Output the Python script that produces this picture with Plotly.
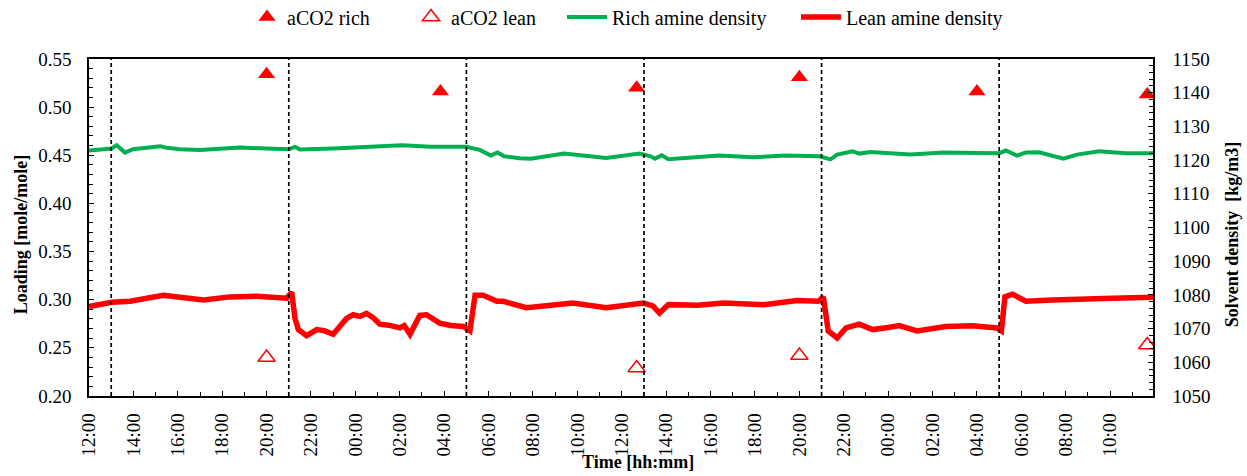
import plotly.graph_objects as go

# ---- data -------------------------------------------------------------
# elapsed time is given in hours after 12:00 on the first day

# rich amine density [kg/m3]
rich_density_h = [0.0, 1.02, 1.25, 1.62, 1.98, 3.2, 3.5, 4.1, 5.0, 6.8, 8.0, 9.0, 9.28, 9.5,
                  11.0, 13.1, 14.1, 15.4, 17.0, 17.6, 17.85, 18.1, 18.4, 18.7, 19.4, 19.9,
                  21.4, 22.4, 23.3, 24.8, 25.3, 25.5, 25.8, 26.1, 26.9, 28.4, 29.9, 31.4,
                  32.9, 33.4, 33.7, 34.4, 34.7, 35.2, 37.0, 38.5, 41.0, 41.3, 41.8, 42.2,
                  42.8, 43.4, 43.9, 44.5, 45.5, 46.7, 47.93]
rich_density = [1122.8, 1123.4, 1124.4, 1122.2, 1123.2, 1124.1, 1123.6, 1123.2, 1123.0, 1123.7,
                1123.4, 1123.2, 1123.9, 1123.1, 1123.4, 1123.9, 1124.4, 1123.9, 1123.9, 1123.0,
                1122.2, 1121.3, 1122.2, 1121.1, 1120.5, 1120.4, 1121.9, 1121.3, 1120.6, 1121.9,
                1121.1, 1120.4, 1121.4, 1120.2, 1120.6, 1121.3, 1120.8, 1121.3, 1121.1, 1120.2,
                1121.6, 1122.6, 1121.9, 1122.4, 1121.6, 1122.2, 1122.0, 1122.8, 1121.3, 1122.2,
                1122.3, 1121.3, 1120.4, 1121.6, 1122.6, 1122.0, 1122.0]

# lean amine density [kg/m3]
lean_density_h = [0.0, 1.02, 1.85, 2.6, 3.35, 4.1, 5.15, 6.35, 7.55, 8.9, 9.13, 9.28, 9.43,
                  9.8, 10.26, 10.6, 11.0, 11.6, 11.9, 12.2, 12.5, 12.8, 13.1, 13.5, 14.0,
                  14.2, 14.46, 14.9, 15.2, 15.8, 16.3, 16.86, 17.16, 17.39, 17.76, 18.37,
                  18.66, 19.7, 20.6, 21.8, 23.3, 24.97, 25.4, 25.7, 26.1, 27.4, 28.6, 30.4,
                  31.9, 32.85, 33.08, 33.3, 33.7, 34.1, 34.7, 35.3, 36.0, 36.5, 37.3, 38.6,
                  39.8, 40.9, 41.1, 41.26, 41.6, 42.2, 43.4, 44.9, 46.1, 47.93]
lean_density = [1076.5, 1077.8, 1078.1, 1078.9, 1079.9, 1079.3, 1078.5, 1079.4, 1079.6, 1079.0,
                1080.8, 1073.0, 1069.7, 1067.9, 1069.7, 1069.4, 1068.3, 1073.0, 1074.1, 1073.6,
                1074.5, 1073.2, 1071.3, 1071.0, 1070.2, 1070.9, 1068.3, 1073.9, 1074.1, 1071.6,
                1070.9, 1070.6, 1069.3, 1079.9, 1079.9, 1078.1, 1078.1, 1076.2, 1076.7, 1077.6,
                1076.2, 1077.6, 1076.7, 1074.6, 1077.1, 1076.9, 1077.6, 1077.1, 1078.3, 1078.1,
                1079.4, 1069.3, 1067.2, 1070.2, 1071.3, 1069.7, 1070.3, 1070.9, 1069.3, 1070.6,
                1070.8, 1070.2, 1069.3, 1079.4, 1080.2, 1078.1, 1078.5, 1079.0, 1079.0, 1079.3]

# sampled CO2 loading [mole/mole]
rich_sample_h = [8.0, 15.83, 24.67, 32.0, 40.0, 47.67]
rich_loading = [0.534, 0.516, 0.520, 0.531, 0.516, 0.513]
lean_sample_h = [8.0, 24.67, 32.0, 47.67]
lean_loading = [0.240, 0.229, 0.242, 0.253]

# shift change markers (hours)
shift_h = [1, 9, 17, 25, 33, 41]

# x tick positions and labels
tick_h = list(range(0, 47, 2))
tick_labels = ["12:00", "14:00", "16:00", "18:00", "20:00", "22:00", "00:00", "02:00",
               "04:00", "06:00", "08:00", "10:00", "12:00", "14:00", "16:00", "18:00",
               "20:00", "22:00", "00:00", "02:00", "04:00", "06:00", "08:00", "10:00"]

# ---- figure -------------------------------------------------------------
FONT = "Liberation Serif"
RED = "#FF0000"
GREEN = "#00B050"
W, H = 1247, 476
L, R, T, B = 89, 94, 36, 80

fig = go.Figure()

fig.add_trace(go.Scatter(
    x=rich_density_h, y=rich_density, yaxis="y2", mode="lines",
    name="Rich amine density", line=dict(color=GREEN, width=4),
    legend="legend3"))
fig.add_trace(go.Scatter(
    x=lean_density_h, y=lean_density, yaxis="y2", mode="lines",
    name="Lean amine density", line=dict(color=RED, width=5.5),
    legend="legend4"))
fig.add_trace(go.Scatter(
    x=rich_sample_h, y=rich_loading, mode="markers", name="aCO2 rich",
    marker=dict(symbol="triangle-up", size=15, color=RED),
    legend="legend"))
fig.add_trace(go.Scatter(
    x=lean_sample_h, y=lean_loading, mode="markers", name="aCO2 lean",
    marker=dict(symbol="triangle-up-open", size=15, color=RED, line=dict(width=1.5)),
    legend="legend2"))

for h in shift_h:
    fig.add_shape(type="line", xref="x", yref="paper", x0=h, x1=h, y0=0, y1=1,
                  line=dict(color="black", width=1.7, dash="4px,3px"))

legend_style = dict(orientation="h", xref="container", yref="container",
                    xanchor="left", yanchor="middle", y=1 - 17 / H,
                    bgcolor="rgba(0,0,0,0)", font=dict(family=FONT, size=20, color="black"))

axis_common = dict(showline=True, linecolor="black", linewidth=1.5, showgrid=False,
                   zeroline=False, ticks="inside", ticklen=5, tickwidth=1.2,
                   tickcolor="black", tickfont=dict(family=FONT, size=19, color="black"))

fig.update_layout(
    width=W, height=H,
    margin=dict(l=L, r=R, t=T, b=B),
    paper_bgcolor="white", plot_bgcolor="white",
    font=dict(family=FONT, size=19, color="black"),
    showlegend=True,
    legend=dict(legend_style, x=247 / W),
    legend2=dict(legend_style, x=411 / W),
    legend3=dict(legend_style, x=562 / W, itemwidth=40),
    legend4=dict(legend_style, x=796 / W, itemwidth=40),
    xaxis=dict(axis_common, range=[0, 47.93], tickmode="array", tickvals=tick_h,
               ticktext=tick_labels, tickangle=-90, mirror=True, ticklabelstandoff=8,
               minor=dict(dtick=1, ticks="inside", ticklen=4, tickcolor="black")),
    yaxis=dict(axis_common, range=[0.20, 0.55], dtick=0.05, tickformat=".2f",
               ticklabelstandoff=12,
               minor=dict(dtick=0.01, ticks="inside", ticklen=4, tickcolor="black")),
    yaxis2=dict(axis_common, range=[1050, 1150], dtick=10, overlaying="y", side="right",
                ticklabelstandoff=14,
                minor=dict(dtick=2, ticks="inside", ticklen=4, tickcolor="black")),
)

title_font = dict(family=FONT, size=18, color="black", weight="bold")
fig.add_annotation(text="Time [hh:mm]", xref="paper", yref="paper",
                   x=(638 - L) / (W - L - R), y=-(466 - (H - B)) / (H - T - B),
                   xanchor="center", yanchor="middle", showarrow=False, font=title_font)
fig.add_annotation(text="Loading [mole/mole]", xref="paper", yref="paper",
                   x=(21 - L) / (W - L - R), y=0.48, textangle=-90,
                   xanchor="center", yanchor="middle", showarrow=False, font=title_font)
fig.add_annotation(text="Solvent density\u00a0\u00a0[kg/m3]", xref="paper", yref="paper",
                   x=(1232 - L) / (W - L - R), y=0.48, textangle=-90,
                   xanchor="center", yanchor="middle", showarrow=False, font=title_font)

fig.write_html("out.html")
